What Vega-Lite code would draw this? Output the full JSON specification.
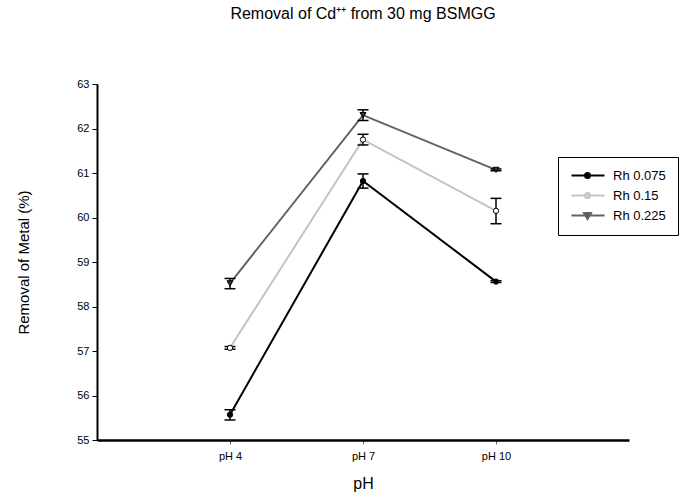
{
  "$schema": "https://vega.github.io/schema/vega-lite/v6.json",
  "width": 532,
  "height": 356,
  "autosize": {"type": "none"},
  "padding": {"left": 97, "top": 84, "right": 60, "bottom": 64},
  "config": {"font": "Liberation Sans", "view": {"stroke": null}},
  "title": {"text": "Removal of Cd⁺⁺ from 30 mg BSMGG", "fontSize": 16, "fontWeight": "normal", "offset": 56, "anchor": "middle", "color": "black"},
  "data": {"values": [
    {"series": "Rh 0.075", "pos": 1, "mean": 55.57, "lo": 55.45, "hi": 55.68},
    {"series": "Rh 0.075", "pos": 2, "mean": 60.82, "lo": 60.66, "hi": 60.98},
    {"series": "Rh 0.075", "pos": 3, "mean": 58.56, "lo": 58.54, "hi": 58.58},
    {"series": "Rh 0.15", "pos": 1, "mean": 57.07, "lo": 57.04, "hi": 57.1},
    {"series": "Rh 0.15", "pos": 2, "mean": 61.75, "lo": 61.63, "hi": 61.87},
    {"series": "Rh 0.15", "pos": 3, "mean": 60.15, "lo": 59.86, "hi": 60.43},
    {"series": "Rh 0.225", "pos": 1, "mean": 58.52, "lo": 58.4, "hi": 58.63},
    {"series": "Rh 0.225", "pos": 2, "mean": 62.3, "lo": 62.18, "hi": 62.42},
    {"series": "Rh 0.225", "pos": 3, "mean": 61.07, "lo": 61.05, "hi": 61.09}
  ]},
  "layer": [
    {
      "mark": {"type": "line", "strokeWidth": 2},
      "encoding": {
        "x": {"field": "pos", "type": "quantitative", "scale": {"domain": [0, 4], "nice": false}, "title": "pH",
          "axis": {"values": [1, 2, 3], "labelExpr": "'pH ' + (datum.value == 1 ? '4' : datum.value == 2 ? '7' : '10')", "grid": false, "domainColor": "black", "domainWidth": 2.5, "tickColor": "#666666", "tickSize": 4, "labelFontSize": 11, "labelColor": "black", "labelPadding": 6, "titleFontSize": 16, "titleFontWeight": "normal", "titleColor": "black", "titlePadding": 14}},
        "y": {"field": "mean", "type": "quantitative", "scale": {"domain": [55, 63], "nice": false, "zero": false}, "title": "Removal of Metal (%)",
          "axis": {"values": [55, 56, 57, 58, 59, 60, 61, 62, 63], "grid": false, "domainColor": "black", "domainWidth": 2, "tickColor": "black", "tickSize": 5, "labelFontSize": 11, "labelColor": "black", "labelPadding": 3, "titleFontSize": 15, "titleFontWeight": "normal", "titleColor": "black", "titlePadding": 45}},
        "color": {"field": "series", "type": "nominal",
          "scale": {"domain": ["Rh 0.075", "Rh 0.15", "Rh 0.225"], "range": ["#000000", "#c4c4c4", "#626262"]},
          "legend": {"orient": "none", "legendX": 461, "legendY": 73, "title": null, "padding": 12, "strokeColor": "black", "fillColor": "white", "symbolSize": 100, "labelOffset": 30, "labelFontSize": 13, "labelColor": "black", "rowPadding": 6, "symbolStrokeWidth": 2,
            "encode": {"symbols": {"update": {
              "shape": {"signal": "datum.value === 'Rh 0.225' ? 'M-1,0H5.6M1.5,-0.5L2.9,-0.5L2.2,0.7Z' : 'M-1,0H5.6M1.7,0A0.5,0.5,0,1,0,2.7,0A0.5,0.5,0,1,0,1.7,0Z'"},
              "fill": {"signal": "datum.value === 'Rh 0.15' ? 'white' : datum.value === 'Rh 0.075' ? 'black' : '#444444'"},
              "fillOpacity": {"value": 1}
            }}}}}
      }
    },
    {
      "mark": {"type": "rule", "color": "black", "strokeWidth": 1.5},
      "encoding": {
        "x": {"field": "pos", "type": "quantitative", "title": "pH"},
        "y": {"field": "lo", "type": "quantitative", "title": "Removal of Metal (%)"},
        "y2": {"field": "hi"}
      }
    },
    {
      "mark": {"type": "point", "shape": "stroke", "size": 121, "color": "black", "strokeWidth": 1.5, "opacity": 1},
      "encoding": {
        "x": {"field": "pos", "type": "quantitative", "title": "pH"},
        "y": {"field": "lo", "type": "quantitative", "title": "Removal of Metal (%)"}
      }
    },
    {
      "mark": {"type": "point", "shape": "stroke", "size": 121, "color": "black", "strokeWidth": 1.5, "opacity": 1},
      "encoding": {
        "x": {"field": "pos", "type": "quantitative", "title": "pH"},
        "y": {"field": "hi", "type": "quantitative", "title": "Removal of Metal (%)"}
      }
    },
    {
      "transform": [{"filter": "datum.series === 'Rh 0.075'"}],
      "mark": {"type": "point", "shape": "circle", "filled": true, "size": 28, "fill": "black", "stroke": "black", "strokeWidth": 1, "opacity": 1},
      "encoding": {
        "x": {"field": "pos", "type": "quantitative", "title": "pH"},
        "y": {"field": "mean", "type": "quantitative", "title": "Removal of Metal (%)"}
      }
    },
    {
      "transform": [{"filter": "datum.series === 'Rh 0.15'"}],
      "mark": {"type": "point", "shape": "circle", "filled": true, "size": 28, "fill": "white", "stroke": "black", "strokeWidth": 1, "opacity": 1},
      "encoding": {
        "x": {"field": "pos", "type": "quantitative", "title": "pH"},
        "y": {"field": "mean", "type": "quantitative", "title": "Removal of Metal (%)"}
      }
    },
    {
      "transform": [{"filter": "datum.series === 'Rh 0.225'"}],
      "mark": {"type": "point", "shape": "triangle-down", "filled": true, "size": 36, "fill": "#333333", "stroke": "black", "strokeWidth": 1, "opacity": 1},
      "encoding": {
        "x": {"field": "pos", "type": "quantitative", "title": "pH"},
        "y": {"field": "mean", "type": "quantitative", "title": "Removal of Metal (%)"}
      }
    }
  ]
}
